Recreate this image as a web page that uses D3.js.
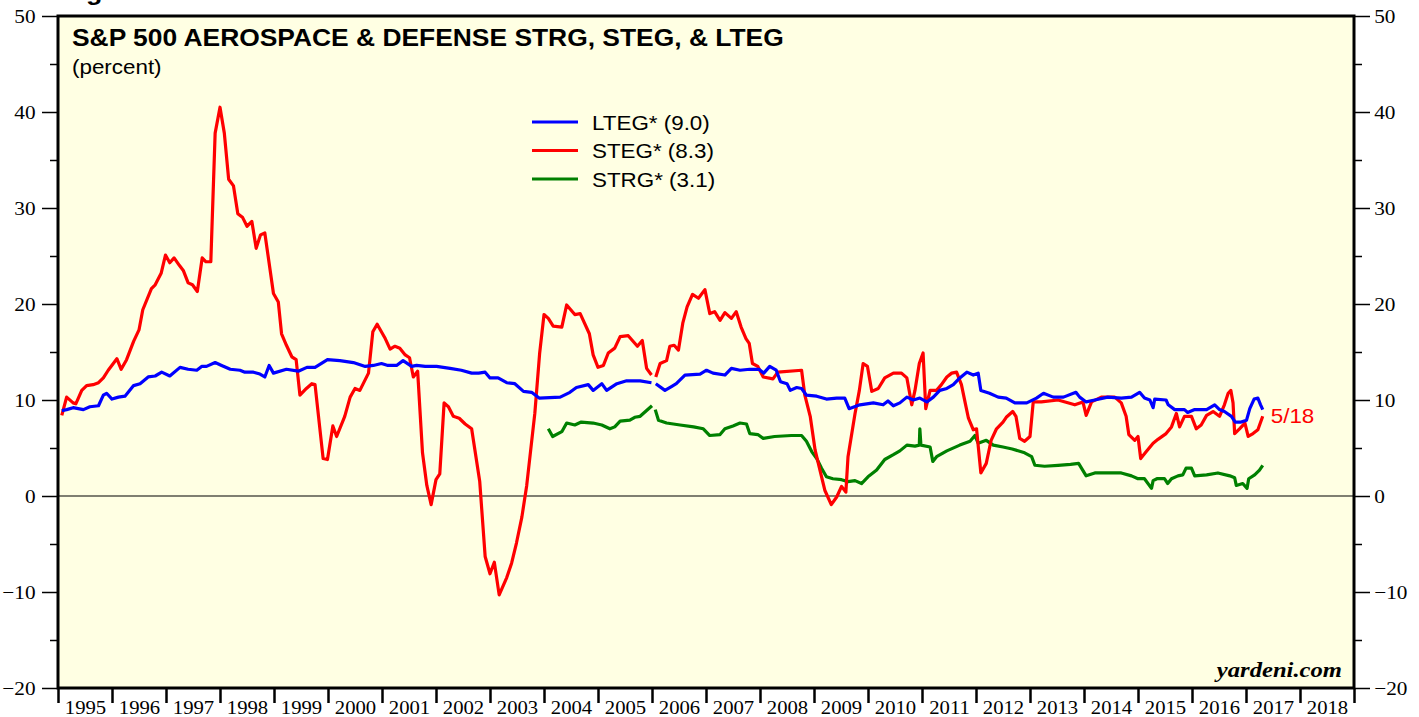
<!DOCTYPE html>
<html><head><meta charset="utf-8">
<script src="https://cdn.jsdelivr.net/npm/d3@7"></script>
<style>body{margin:0;background:#fff} svg{display:block}</style>
</head><body><svg id="c" width="1419" height="717"></svg>
<script>
const years = d3.range(1995, 2019);
const yTicks = [-20, -10, 0, 10, 20, 30, 40, 50];
const yMinor = [-15, -5, 5, 15, 25, 35, 45];
const titleText = "S&P 500 AEROSPACE & DEFENSE STRG, STEG, & LTEG";
const subtitleText = "(percent)";
const seriesNames = ["LTEG* (9.0)", "STEG* (8.3)", "STRG* (3.1)"];
const lastLabel = "5/18";

const lteg = [
[1995.07,8.9],[1995.16,9.0],[1995.28,9.2],[1995.47,9.0],[1995.59,9.3],[1995.75,9.4],[1995.84,10.5],[1995.90,10.7],
[1996.00,10.1],[1996.12,10.3],[1996.24,10.4],[1996.40,11.5],[1996.52,11.7],[1996.67,12.4],[1996.80,12.5],[1996.92,12.9],
[1997.07,12.5],[1997.26,13.4],[1997.41,13.2],[1997.57,13.1],[1997.66,13.5],[1997.75,13.5],[1997.91,13.9],
[1998.03,13.6],[1998.19,13.2],[1998.37,13.1],[1998.46,12.9],[1998.62,12.9],[1998.74,12.7],[1998.83,12.4],[1998.91,13.6],[1998.99,12.8],
[1999.23,13.2],[1999.45,13.0],[1999.61,13.4],[1999.76,13.4],[1999.99,14.2],
[2000.22,14.1],[2000.47,13.9],[2000.69,13.5],[2000.84,13.6],[2000.99,13.8],
[2001.11,13.6],[2001.27,13.6],[2001.39,14.1],[2001.55,13.5],[2001.64,13.6],[2001.80,13.5],
[2002.01,13.5],[2002.26,13.3],[2002.47,13.1],[2002.66,12.8],[2002.79,12.8],[2002.91,12.9],
[2003.00,12.3],[2003.15,12.3],[2003.31,11.8],[2003.46,11.7],[2003.62,10.9],[2003.77,10.8],[2003.91,10.2],
[2004.30,10.3],[2004.48,10.8],[2004.60,11.3],[2004.82,11.6],[2004.91,11.0],
[2005.07,11.7],[2005.16,11.0],[2005.35,11.7],[2005.53,12.0],[2005.78,12.0],[2005.99,11.8],
[2006.03,null],
[2006.07,11.7],[2006.24,11.0],[2006.36,11.4],[2006.45,11.7],[2006.61,12.6],[2006.89,12.7],
[2007.01,13.1],[2007.13,12.8],[2007.35,12.6],[2007.47,13.3],[2007.63,13.1],[2007.81,13.2],[2007.98,13.2],
[2008.07,12.8],[2008.18,13.5],[2008.30,13.1],[2008.38,11.9],[2008.50,11.7],[2008.56,11.0],[2008.68,11.3],[2008.77,11.2],[2008.86,10.5],
[2009.05,10.4],[2009.23,10.1],[2009.42,10.2],[2009.57,10.2],[2009.65,9.1],[2009.85,9.5],
[2010.10,9.7],[2010.28,9.5],[2010.37,9.9],[2010.47,9.4],[2010.59,9.7],[2010.72,10.3],[2010.84,10.0],[2010.96,10.2],
[2011.09,9.8],[2011.21,10.3],[2011.33,11.0],[2011.46,11.2],[2011.58,11.6],[2011.70,12.3],[2011.83,12.9],[2011.95,12.6],
[2012.04,12.8],[2012.09,11.0],[2012.25,10.7],[2012.41,10.3],[2012.56,10.2],[2012.72,9.7],[2012.94,9.7],
[2013.12,10.2],[2013.25,10.7],[2013.43,10.3],[2013.62,10.3],[2013.85,10.8],[2013.92,10.3],
[2014.04,9.8],[2014.20,10.0],[2014.44,10.3],[2014.69,10.2],[2014.88,10.3],
[2015.03,10.8],[2015.12,10.2],[2015.22,10.0],[2015.28,9.2],[2015.31,10.1],[2015.52,10.0],[2015.56,9.5],[2015.68,9.0],[2015.86,9.0],[2015.92,8.7],
[2016.05,9.0],[2016.27,9.0],[2016.42,9.5],[2016.51,9.0],[2016.60,8.8],[2016.73,8.3],[2016.80,7.7],[2016.91,7.7],
[2017.01,7.9],[2017.07,9.1],[2017.15,10.1],[2017.22,10.2],[2017.27,9.5],[2017.31,9.0]
];

const steg = [
[1995.07,8.4],[1995.16,10.3],[1995.28,9.7],[1995.33,9.6],[1995.44,11.0],[1995.53,11.5],[1995.65,11.6],[1995.75,11.8],[1995.84,12.3],[1995.93,13.1],
[1996.09,14.3],[1996.17,13.2],[1996.27,14.2],[1996.40,16.1],[1996.50,17.3],[1996.57,19.4],[1996.73,21.6],[1996.80,22.0],[1996.91,23.2],[1996.99,25.1],
[1997.07,24.3],[1997.15,24.8],[1997.25,24.0],[1997.32,23.5],[1997.41,22.2],[1997.49,22.0],[1997.58,21.3],[1997.67,24.8],[1997.74,24.4],[1997.83,24.4],[1997.91,37.8],
[1998.00,40.5],[1998.08,37.8],[1998.16,33.0],[1998.25,32.3],[1998.33,29.4],[1998.42,29.0],[1998.50,28.1],[1998.59,28.6],[1998.67,25.8],[1998.75,27.2],[1998.83,27.4],[1998.99,21.1],
[1999.08,20.2],[1999.14,16.9],[1999.23,15.7],[1999.33,14.5],[1999.41,14.2],[1999.48,10.5],[1999.60,11.2],[1999.70,11.7],[1999.76,11.6],[1999.91,3.9],[1999.99,3.8],
[2000.09,7.3],[2000.16,6.2],[2000.31,8.3],[2000.41,10.3],[2000.50,11.2],[2000.59,11.0],[2000.75,12.8],[2000.83,17.1],[2000.91,17.9],
[2001.06,16.4],[2001.15,15.3],[2001.24,15.6],[2001.33,15.4],[2001.43,14.7],[2001.51,14.4],[2001.58,12.4],[2001.66,13.0],[2001.75,4.5],[2001.83,1.1],[2001.91,-0.9],
[2002.00,1.7],[2002.07,2.3],[2002.15,9.7],[2002.23,9.3],[2002.32,8.3],[2002.43,8.1],[2002.54,7.5],[2002.66,7.0],[2002.81,1.5],[2002.91,-6.3],
[2003.00,-8.1],[2003.08,-6.9],[2003.17,-10.3],[2003.31,-8.5],[2003.40,-7.0],[2003.49,-4.9],[2003.59,-2.2],[2003.68,1.1],[2003.83,8.6],[2003.92,14.9],
[2004.00,18.9],[2004.08,18.5],[2004.17,17.7],[2004.33,17.6],[2004.42,19.9],[2004.57,18.9],[2004.67,19.0],[2004.84,16.9],[2004.91,14.7],
[2005.00,13.4],[2005.10,13.6],[2005.19,14.9],[2005.31,15.4],[2005.41,16.6],[2005.56,16.7],[2005.73,15.6],[2005.82,16.2],[2005.90,13.3],[2005.99,12.6],
[2006.03,null],
[2006.07,12.4],[2006.15,13.8],[2006.27,14.1],[2006.33,15.6],[2006.41,15.7],[2006.49,15.2],[2006.57,18.0],[2006.65,19.7],[2006.75,21.0],[2006.86,20.6],[2006.98,21.5],
[2007.07,19.0],[2007.16,19.2],[2007.26,18.3],[2007.35,19.1],[2007.47,18.5],[2007.56,19.2],[2007.65,17.6],[2007.74,16.4],[2007.80,15.9],[2007.86,13.8],[2007.96,13.5],
[2008.06,12.4],[2008.24,12.2],[2008.33,12.9],[2008.77,13.1],[2008.83,10.5],[2008.93,8.3],
[2009.02,4.8],[2009.11,2.7],[2009.20,0.6],[2009.32,-0.9],[2009.42,-0.1],[2009.51,1.0],[2009.59,0.4],[2009.63,4.1],[2009.76,8.6],[2009.84,11.0],[2009.91,13.8],[2009.99,13.5],
[2010.07,10.9],[2010.19,11.2],[2010.31,12.3],[2010.47,12.8],[2010.62,12.8],[2010.72,12.3],[2010.81,9.5],[2010.87,11.0],[2010.95,13.8],
[2011.02,14.9],[2011.07,9.1],[2011.15,11.0],[2011.27,11.0],[2011.36,11.6],[2011.46,12.4],[2011.55,12.8],[2011.64,12.9],[2011.73,11.6],[2011.80,9.7],[2011.86,8.1],[2011.95,6.9],
[2012.01,7.0],[2012.09,2.4],[2012.19,3.4],[2012.25,5.0],[2012.28,5.8],[2012.38,7.0],[2012.50,7.7],[2012.56,8.2],[2012.68,8.8],[2012.74,8.3],[2012.81,6.0],[2012.90,5.7],
[2013.00,6.2],[2013.06,9.8],[2013.21,9.8],[2013.52,10.0],[2013.83,9.5],[2013.98,9.8],
[2014.04,8.4],[2014.14,9.8],[2014.32,10.3],[2014.57,10.3],[2014.69,9.7],[2014.78,8.3],[2014.83,6.4],[2014.94,5.8],
[2015.00,6.2],[2015.05,3.9],[2015.15,4.6],[2015.28,5.5],[2015.37,5.9],[2015.52,6.5],[2015.62,7.2],[2015.71,8.6],[2015.77,7.2],[2015.86,8.3],[2015.99,8.3],
[2016.08,7.0],[2016.17,7.4],[2016.27,8.4],[2016.39,8.8],[2016.51,8.3],[2016.60,9.5],[2016.67,10.7],[2016.72,11.0],[2016.76,9.7],[2016.79,6.5],[2016.88,7.0],[2016.98,7.6],
[2017.04,6.2],[2017.13,6.5],[2017.22,6.9],[2017.31,8.3]
];

const strg = [
[2004.08,7.0],[2004.16,6.2],[2004.33,6.7],[2004.42,7.6],[2004.57,7.4],[2004.69,7.7],[2004.91,7.6],
[2005.07,7.4],[2005.22,7.0],[2005.31,7.2],[2005.41,7.8],[2005.59,7.9],[2005.68,8.2],[2005.78,8.3],[2005.90,8.9],[2006.00,9.4],
[2006.03,null],
[2006.06,9.0],[2006.12,7.9],[2006.27,7.6],[2006.52,7.4],[2006.77,7.2],[2006.95,7.0],
[2007.07,6.3],[2007.26,6.4],[2007.35,7.0],[2007.50,7.3],[2007.63,7.6],[2007.75,7.5],[2007.81,6.5],[2007.96,6.4],
[2008.06,6.0],[2008.27,6.2],[2008.58,6.3],[2008.77,6.3],[2008.86,5.7],[2008.96,4.6],
[2009.05,3.9],[2009.14,2.9],[2009.23,2.0],[2009.35,1.8],[2009.51,1.7],[2009.63,1.5],[2009.76,1.6],[2009.88,1.3],
[2010.00,2.0],[2010.16,2.7],[2010.31,3.8],[2010.47,4.3],[2010.59,4.7],[2010.72,5.3],[2010.87,5.2],[2010.95,5.3],[2010.96,7.0],[2010.98,5.3],
[2011.15,5.1],[2011.20,3.6],[2011.27,4.1],[2011.46,4.7],[2011.70,5.3],[2011.89,5.7],[2011.98,6.3],
[2012.04,5.5],[2012.19,5.8],[2012.32,5.3],[2012.50,5.1],[2012.67,4.9],[2012.90,4.5],
[2013.03,4.1],[2013.09,3.2],[2013.27,3.1],[2013.52,3.2],[2013.75,3.3],[2013.90,3.4],
[2014.04,2.1],[2014.20,2.4],[2014.44,2.4],[2014.69,2.4],[2014.88,2.1],
[2015.00,1.8],[2015.12,1.8],[2015.25,0.8],[2015.28,1.6],[2015.35,1.8],[2015.49,1.8],[2015.55,1.3],[2015.62,1.8],[2015.74,2.1],[2015.83,2.2],[2015.89,2.9],[2015.99,2.9],
[2016.05,2.1],[2016.27,2.2],[2016.48,2.4],[2016.70,2.1],[2016.79,1.9],[2016.82,1.1],[2016.94,1.3],
[2017.02,0.8],[2017.05,1.8],[2017.16,2.2],[2017.25,2.7],[2017.31,3.2]
];

const L = 58, R = 1354, T = 16, B = 688, SX = 1.12;
const SERIF = "'Liberation Serif','Times New Roman',Times,serif";
const SANS = "'Liberation Sans',Arial,Helvetica,sans-serif";
const svg = d3.select("#c");
const x = d3.scaleLinear().domain([1995, 2019]).range([L, R]);
const y = d3.scaleLinear().domain([-20, 50]).range([B, T]);

function txt(px, py, s, o) {
  const g = svg.append("g").attr("transform", `translate(${px},${py}) scale(${o.sx || SX},1)`);
  return g.append("text").attr("text-anchor", o.anchor || "start")
    .style("font-family", o.family || SANS).style("font-size", o.size + "px")
    .style("font-weight", o.weight || "normal").style("font-style", o.fstyle || "normal")
    .attr("fill", o.fill || "#000").text(s);
}

// heading cut off at the very top edge, as in the source image
txt(62, 0, "Figure 3.", {size: 24, weight: "bold"});

// plot background
svg.append("rect").attr("x", L).attr("y", T).attr("width", R - L).attr("height", B - T).attr("fill", "#FFFFE3");

// zero line
svg.append("line").attr("x1", L).attr("x2", R).attr("y1", y(0)).attr("y2", y(0)).attr("stroke", "#000").attr("stroke-width", 1.2);

function styleAxis(g, fs) {
  g.select(".domain").remove();
  g.selectAll("line").attr("stroke", "#000");
  g.selectAll("text").style("font-family", SERIF).style("font-size", fs + "px").attr("fill", "#000");
}

// left axis
const gl = svg.append("g").attr("transform", `translate(${L},0)`)
  .call(d3.axisLeft(y).tickValues(yTicks).tickSize(16).tickPadding(4).tickFormat(d3.format("d")));
styleAxis(gl, 19); gl.selectAll("line").attr("stroke-width", 1.5);
gl.selectAll("text").attr("transform", `scale(${SX},1)`);
const glm = svg.append("g").attr("transform", `translate(${L},0)`)
  .call(d3.axisLeft(y).tickValues(yMinor).tickSize(8).tickFormat(""));
styleAxis(glm, 19); glm.selectAll("line").attr("stroke-width", 1.5);

// right axis
const gr = svg.append("g").attr("transform", `translate(${R},0)`)
  .call(d3.axisRight(y).tickValues(yTicks).tickSize(16).tickPadding(2).tickFormat(d3.format("d")));
styleAxis(gr, 19); gr.selectAll("line").attr("stroke-width", 1.5);
gr.selectAll("text").attr("transform", `scale(${SX},1)`);
const grm = svg.append("g").attr("transform", `translate(${R},0)`)
  .call(d3.axisRight(y).tickValues(yMinor).tickSize(8).tickFormat(""));
styleAxis(grm, 19); grm.selectAll("line").attr("stroke-width", 1.5);

// bottom axis: year boundaries
const gb = svg.append("g").attr("transform", `translate(0,${B})`)
  .call(d3.axisBottom(x).tickValues(d3.range(1995, 2020)).tickSize(15).tickFormat(""));
styleAxis(gb, 19); gb.selectAll("line").attr("stroke-width", 2.5);
const gbl = svg.append("g").attr("transform", `translate(0,${B})`)
  .call(d3.axisBottom(x).tickValues(years.map(d => d + 0.5)).tickSize(0).tickPadding(13).tickFormat(d => String(Math.floor(d))));
styleAxis(gbl, 18.5);
gbl.selectAll("text").attr("transform", `scale(${SX},1)`);

// lines
const line = d3.line().defined(d => d[1] !== null).x(d => x(d[0])).y(d => y(d[1]));
const series = [
  {data: strg, color: "#008000"},
  {data: steg, color: "#FF0000"},
  {data: lteg, color: "#0000FF"}
];
series.forEach(s => {
  svg.append("path").datum(s.data).attr("d", line).attr("fill", "none")
    .attr("stroke", s.color).attr("stroke-width", 3.2).attr("stroke-linejoin", "round").attr("stroke-linecap", "butt");
});

// frame
svg.append("rect").attr("x", L).attr("y", T).attr("width", R - L).attr("height", B - T)
  .attr("fill", "none").attr("stroke", "#000").attr("stroke-width", 3);

// title
txt(72, 46, titleText, {size: 24, weight: "bold", sx: 1.1});
txt(72, 74, subtitleText, {size: 20});

// legend
const legColors = ["#0000FF", "#FF0000", "#008000"];
seriesNames.forEach((n, i) => {
  const cy = 122 + i * 28.5;
  svg.append("line").attr("x1", 532).attr("x2", 578).attr("y1", cy).attr("y2", cy)
    .attr("stroke", legColors[i]).attr("stroke-width", 3);
  txt(592, cy + 7.5, n, {size: 20});
});

// last-date label
const lastPt = steg[steg.length - 1];
txt(x(lastPt[0]) + 8, y(lastPt[1]) + 7, lastLabel, {size: 20, fill: "#FF0000"});

// source
txt(1342, 677, "yardeni.com", {size: 22, weight: "bold", fstyle: "italic", family: SERIF, anchor: "end"});
</script></body></html>
